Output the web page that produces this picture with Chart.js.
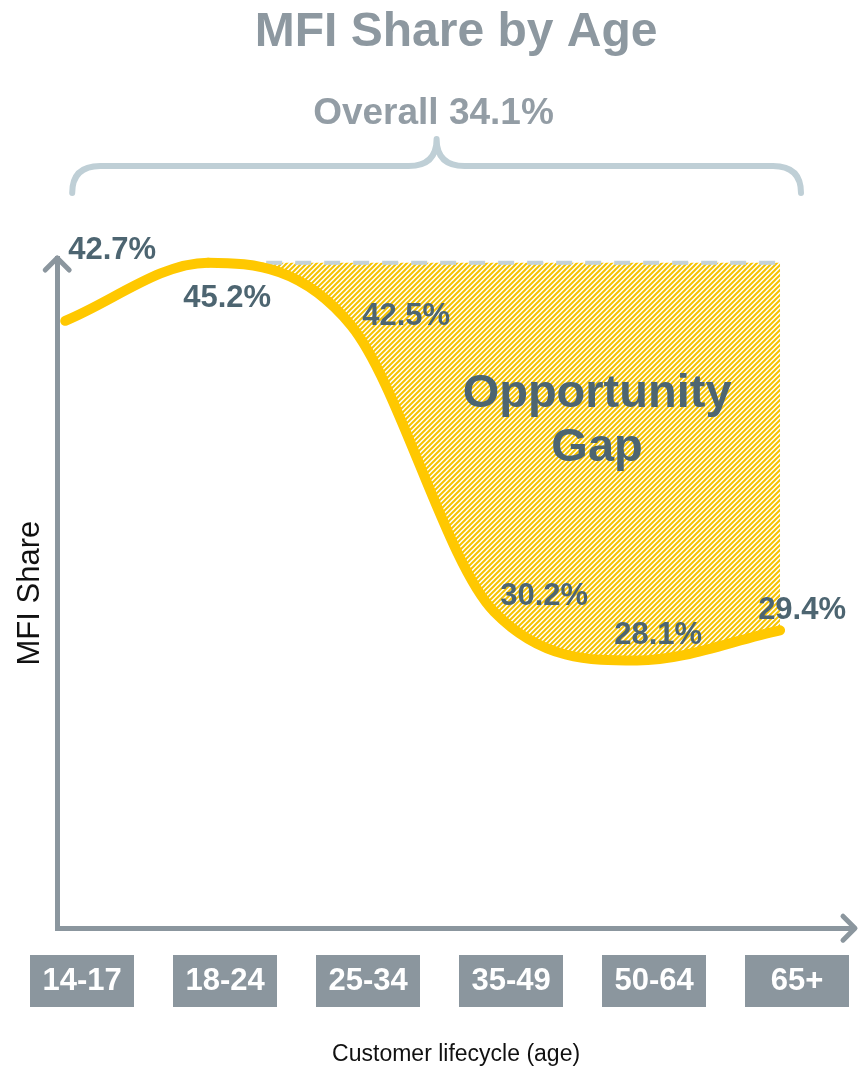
<!DOCTYPE html>
<html>
<head>
<meta charset="utf-8">
<title>MFI Share by Age</title>
<script src="https://cdn.jsdelivr.net/npm/chart.js@4.4.1/dist/chart.umd.min.js"></script>
<style>
  html, body { margin: 0; padding: 0; background: #fff; }
  #wrap { width: 867px; height: 1068px; }
</style>
</head>
<body>
<div id="wrap"><canvas id="mfiChart" width="867" height="1068"></canvas></div>
<script>
const ageGroups = ['14-17', '18-24', '25-34', '35-49', '50-64', '65+'];
const mfiShare = [42.7, 45.2, 42.5, 30.2, 28.1, 29.4];
const overallShare = 34.1;
const shareMin = 16.6, shareMax = 45.4;

const FONT = '"Liberation Sans", Arial, Helvetica, sans-serif';
const GREY = '#8b969e';
const SLATE = '#4d6571';
const GOLD = '#ffc800';
const BOX_W = 104, BOX_H = 52;

Chart.defaults.font.family = FONT;

const peak = Math.max(...mfiShare);
const peakIdx = mfiShare.indexOf(peak);

// small repeating tile of "/" strokes for the gap area
function makeHatch(ctx) {
  const tile = document.createElement('canvas');
  tile.width = tile.height = 5;
  const t = tile.getContext('2d');
  t.strokeStyle = '#f6c300';
  t.lineWidth = 2;
  t.beginPath();
  t.moveTo(-1, 6); t.lineTo(6, -1);
  t.moveTo(-1, 1); t.lineTo(1, -1);
  t.moveTo(4, 6); t.lineTo(6, 4);
  t.stroke();
  return ctx.createPattern(tile, 'repeat');
}

const canvas = document.getElementById('mfiChart');
const gapHatch = makeHatch(canvas.getContext('2d'));

// grey boxes behind the age tick labels, all the same width
const ageBoxes = {
  id: 'ageBoxes',
  beforeDraw(chart) {
    const { ctx, scales: { x } } = chart;
    const shift = x.options.ticks.labelOffset;
    const top = x.top + x.options.grid.tickLength - 8;
    ctx.save();
    ctx.fillStyle = GREY;
    x.ticks.forEach((t, i) => {
      const cx = x.getPixelForTick(i) + shift;
      ctx.fillRect(Math.round(cx - BOX_W / 2), Math.round(top), BOX_W, BOX_H);
    });
    ctx.restore();
  }
};

// where each value label sits relative to its point (px)
const labelShift = [[47, -70], [19, 36], [55, -9], [50, -15], [21, -25], [22, -20]];
const gapLabelAt = { x: 3.72, y: 38.4 };

const decorations = {
  id: 'decorations',
  afterDraw(chart) {
    const { ctx, chartArea: a, scales: { x, y } } = chart;
    ctx.save();

    // arrow heads on both axes
    ctx.strokeStyle = GREY;
    ctx.lineWidth = 5;
    ctx.lineCap = 'round';
    ctx.lineJoin = 'round';
    ctx.beginPath();
    ctx.moveTo(a.left - 12, a.top + 12);
    ctx.lineTo(a.left, a.top);
    ctx.lineTo(a.left + 12, a.top + 12);
    ctx.moveTo(a.right - 12, a.bottom - 12);
    ctx.lineTo(a.right, a.bottom);
    ctx.lineTo(a.right - 12, a.bottom + 12);
    ctx.stroke();

    // curly brace under the overall figure
    const L = a.left + 15, R = a.right - 54, M = (L + R) / 2;
    const yEnd = a.top - 65, yBar = a.top - 92, yTip = a.top - 119;
    ctx.strokeStyle = '#bfcfd6';
    ctx.lineWidth = 6;
    ctx.beginPath();
    ctx.moveTo(L, yEnd);
    ctx.quadraticCurveTo(L, yBar, L + 28, yBar);
    ctx.lineTo(M - 28, yBar);
    ctx.quadraticCurveTo(M, yBar, M, yTip);
    ctx.quadraticCurveTo(M, yBar, M + 28, yBar);
    ctx.lineTo(R - 28, yBar);
    ctx.quadraticCurveTo(R, yBar, R, yEnd);
    ctx.stroke();

    // value labels
    ctx.fillStyle = SLATE;
    ctx.textAlign = 'center';
    ctx.textBaseline = 'middle';
    ctx.font = 'bold 31px ' + FONT;
    mfiShare.forEach((v, i) => {
      const px = x.getPixelForValue(i) + labelShift[i][0];
      const py = y.getPixelForValue(v) + labelShift[i][1];
      ctx.fillText(v.toFixed(1) + '%', px, py);
    });

    // gap caption
    ctx.font = 'bold 47px ' + FONT;
    const gx = x.getPixelForValue(gapLabelAt.x);
    const gy = y.getPixelForValue(gapLabelAt.y);
    ctx.fillText('Opportunity', gx, gy - 27);
    ctx.fillText('Gap', gx, gy + 27);
    ctx.restore();
  }
};

new Chart(canvas, {
  type: 'line',
  data: {
    datasets: [
      {
        label: 'MFI share',
        data: mfiShare.map((v, i) => ({ x: i, y: v })),
        borderColor: GOLD,
        borderWidth: 10,
        borderCapStyle: 'round',
        borderJoinStyle: 'round',
        pointRadius: 0,
        cubicInterpolationMode: 'monotone',
        fill: { value: peak },
        backgroundColor: gapHatch,
        segment: {
          backgroundColor: c => c.p0DataIndex < peakIdx ? 'rgba(0,0,0,0)' : gapHatch
        },
        clip: false,
        order: 0
      },
      {
        label: 'Peak level',
        data: mfiShare.map((v, i) => ({ x: i, y: i >= peakIdx ? peak : null })),
        borderColor: '#c4d2d9',
        borderWidth: 4,
        borderDash: [16, 13],
        pointRadius: 0,
        fill: false,
        order: 1
      }
    ]
  },
  options: {
    responsive: false,
    animation: false,
    events: [],
    layout: { padding: { left: 12, right: 12, top: 0, bottom: 0 } },
    plugins: {
      legend: { display: false },
      tooltip: { enabled: false },
      filler: { drawTime: 'beforeDatasetsDraw' },
      title: {
        display: true,
        fullSize: false,
        text: 'MFI Share by Age',
        color: '#8d98a0',
        font: { size: 48, weight: 'bold' },
        padding: { top: 4, bottom: 30 }
      },
      subtitle: {
        display: true,
        text: 'Overall ' + overallShare.toFixed(1) + '%',
        color: '#939da5',
        font: { size: 37, weight: 'bold' },
        padding: { top: 0, bottom: 122 }
      }
    },
    scales: {
      x: {
        type: 'linear',
        min: -0.056,
        max: 5.524,
        afterBuildTicks: s => { s.ticks = ageGroups.map((_, i) => ({ value: i })); },
        grid: { display: false, drawTicks: true, tickLength: 35 },
        border: { display: true, color: GREY, width: 5 },
        ticks: {
          callback: v => ageGroups[v],
          autoSkip: false,
          maxRotation: 0,
          padding: 0,
          labelOffset: 17,
          color: '#ffffff',
          font: { size: 31, weight: 'bold' }
        },
        title: {
          display: true,
          text: 'Customer lifecycle (age)',
          color: '#111111',
          font: { size: 23 },
          padding: { top: 40, bottom: 0 }
        }
      },
      y: {
        min: shareMin,
        max: shareMax,
        ticks: { display: false },
        grid: { display: false, drawTicks: false },
        border: { display: true, color: GREY, width: 5 },
        title: {
          display: true,
          text: 'MFI Share',
          color: '#111111',
          font: { size: 31 },
          padding: { top: 0, bottom: 8 }
        }
      }
    }
  },
  plugins: [ageBoxes, decorations]
});
</script>
</body>
</html>
